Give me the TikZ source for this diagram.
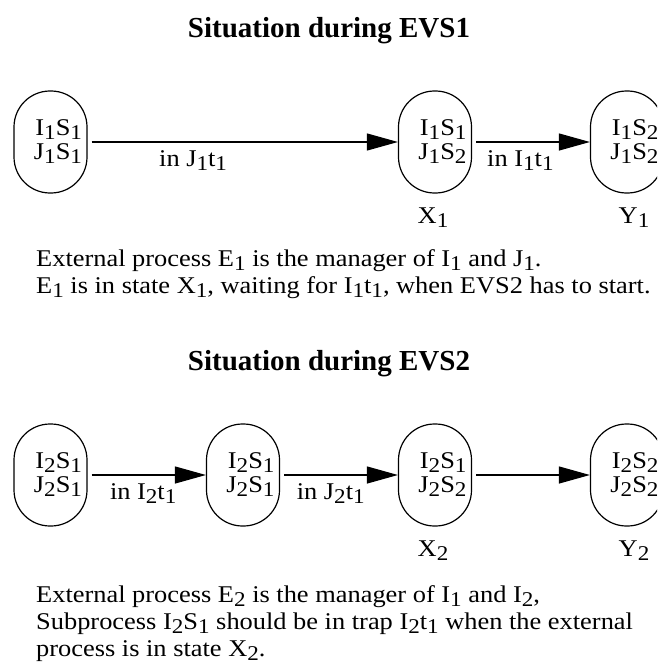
\documentclass[tikz,border=0pt]{standalone}
\usepackage{fontspec}
\setmainfont[FakeStretch=1.1]{Liberation Serif}
\newfontfamily\ttlfamily{Liberation Serif}
\usetikzlibrary{arrows.meta}
\newcommand{\mysub}[1]{\raisebox{-4pt}{\fontsize{21}{21}\selectfont #1}}
\newcommand{\bodyfont}{\fontsize{24}{24}\selectfont}
\newcommand{\titlefont}{\ttlfamily\fontsize{29}{29}\selectfont\bfseries}
\tikzset{
  st/.style={draw, line width=1.2pt, rounded corners=36pt, minimum width=73pt,
    minimum height=102pt, align=right, text width=63pt, inner sep=0pt, font=\bodyfont},
  arr/.style={line width=1.2pt, -{Triangle[length=31pt,width=17pt]}, shorten <=4pt},
  lbl/.style={font=\bodyfont, anchor=base, inner sep=0pt},
  captxt/.style={font=\bodyfont, anchor=base west, inner sep=0pt},
  ttl/.style={font=\titlefont, anchor=base, inner sep=0pt},
}
\begin{document}
\begin{tikzpicture}[x=1pt,y=-1pt]
\useasboundingbox (0,0) rectangle (657,666);
\clip (0,0) rectangle (657,666);
% Section 1
\node[ttl] (t1) at (329,38) {Situation during EVS1};
\node[st] (n1) at (50.5,142) {I\mysub{1}S\mysub{1}\\J\mysub{1}S\mysub{1}};
\node[st] (x1) at (435,142) {I\mysub{1}S\mysub{1}\\J\mysub{1}S\mysub{2}};
\node[st] (y1) at (627,142) {I\mysub{1}S\mysub{2}\\J\mysub{1}S\mysub{2}};
\draw[arr] (n1) -- node[lbl, pos=0.34, yshift=-24pt] {in J\mysub{1}t\mysub{1}} (x1);
\draw[arr] (x1) -- node[lbl, pos=0.41, yshift=-24pt] {in I\mysub{1}t\mysub{1}} (y1);
\node[lbl] (lx1) at (433,223) {X\mysub{1}};
\node[lbl] (ly1) at (634,223) {Y\mysub{1}};
\node[captxt] (c11) at (36,266) {External process E\mysub{1} is the manager of I\mysub{1} and J\mysub{1}.};
\node[captxt] (c12) at (36,293) {E\mysub{1} is in state X\mysub{1}, waiting for I\mysub{1}t\mysub{1}, when EVS2 has to start.};
% Section 2
\node[ttl] (t2) at (329,370) {Situation during EVS2};
\node[st] (a2) at (50.5,475) {I\mysub{2}S\mysub{1}\\J\mysub{2}S\mysub{1}};
\node[st] (b2) at (243,475) {I\mysub{2}S\mysub{1}\\J\mysub{2}S\mysub{1}};
\node[st] (x2) at (435,475) {I\mysub{2}S\mysub{1}\\J\mysub{2}S\mysub{2}};
\node[st] (y2) at (627,475) {I\mysub{2}S\mysub{2}\\J\mysub{2}S\mysub{2}};
\draw[arr] (a2) -- node[lbl, pos=0.47, yshift=-24pt] {in I\mysub{2}t\mysub{1}} (b2);
\draw[arr] (b2) -- node[lbl, pos=0.43, yshift=-24pt] {in J\mysub{2}t\mysub{1}} (x2);
\draw[arr] (x2) -- (y2);
\node[lbl] (lx2) at (433,556) {X\mysub{2}};
\node[lbl] (ly2) at (634,556) {Y\mysub{2}};
\node[captxt] (c21) at (36,602) {External process E\mysub{2} is the manager of I\mysub{1} and I\mysub{2},};
\node[captxt] (c22) at (36,629) {Subprocess I\mysub{2}S\mysub{1} should be in trap I\mysub{2}t\mysub{1} when the external};
\node[captxt] (c23) at (36,656) {process is in state X\mysub{2}.};
\end{tikzpicture}
\end{document}
